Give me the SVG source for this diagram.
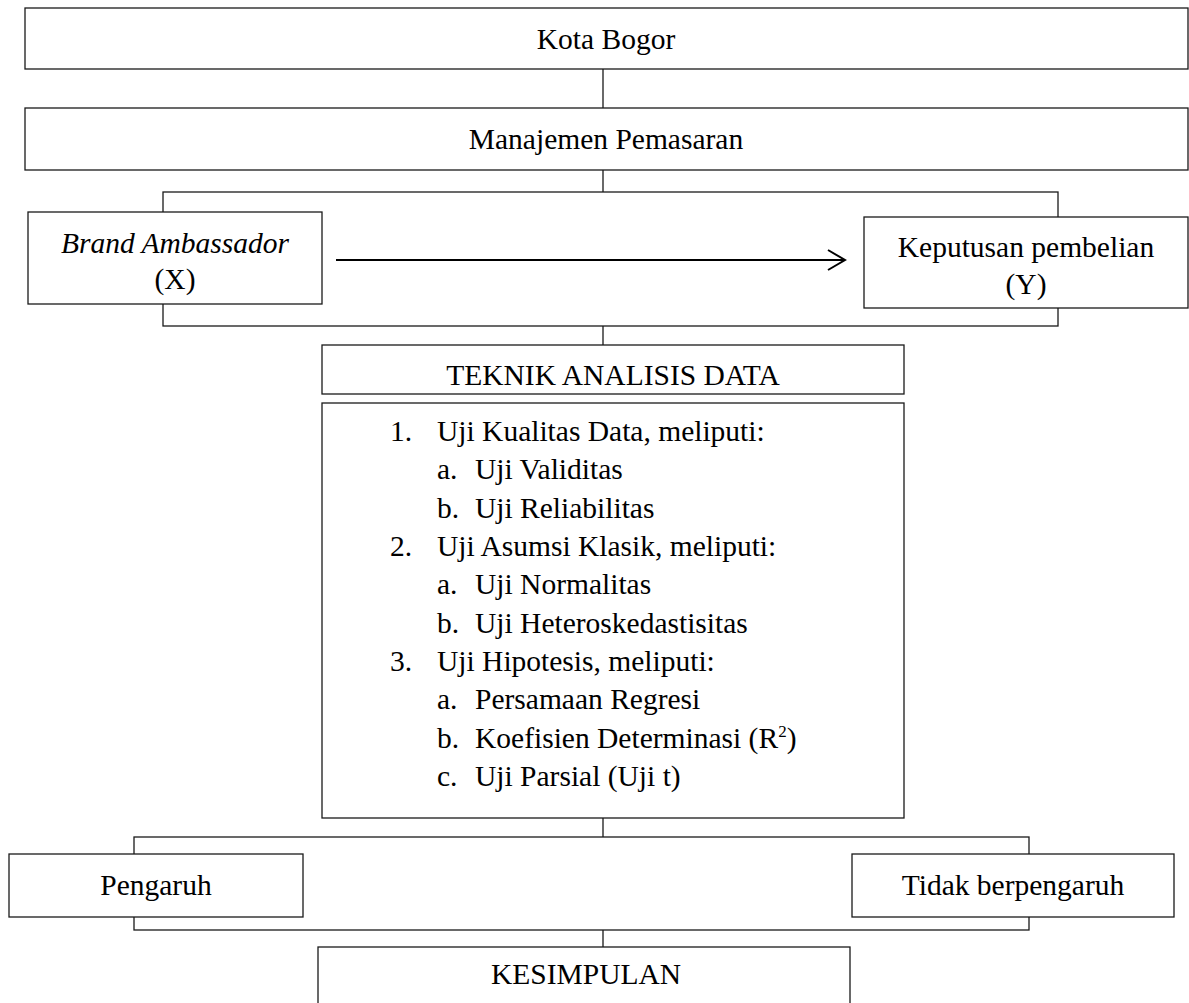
<svg xmlns="http://www.w3.org/2000/svg" width="1189" height="1003" viewBox="0 0 1189 1003">
<style>
.box{fill:#fff;stroke:#1a1a1a;stroke-width:1.3}
.ln{fill:none;stroke:#1a1a1a;stroke-width:1.3}
text{font-family:"Liberation Serif","Times New Roman",serif;font-size:29.5px;fill:#000}
.c{text-anchor:middle}
</style>
<defs>
<marker id="open" markerWidth="20" markerHeight="22" refX="18" refY="11" orient="auto" markerUnits="userSpaceOnUse">
<path d="M1,1 L18,11 L1,21" fill="none" stroke="#000" stroke-width="2"/>
</marker>
</defs>
<g id="connectors">
<line class="ln" x1="603" y1="69" x2="603" y2="108"/>
<line class="ln" x1="603" y1="170" x2="603" y2="192"/>
<rect class="ln" x="163" y="192" width="895" height="134"/>
<line class="ln" x1="603" y1="326" x2="603" y2="345"/>
<line x1="336" y1="260" x2="845" y2="260" stroke="#000" stroke-width="2" marker-end="url(#open)"/>
<line class="ln" x1="603" y1="818" x2="603" y2="837"/>
<rect class="ln" x="134" y="837" width="895" height="93"/>
<line class="ln" x1="603" y1="930" x2="603" y2="947"/>
</g>
<g id="kota-bogor">
<rect class="box" x="25" y="8" width="1163" height="61"/>
<text class="c" x="606" y="49">Kota Bogor</text>
</g>
<g id="manajemen-pemasaran">
<rect class="box" x="25" y="108" width="1163" height="62"/>
<text class="c" x="606" y="149">Manajemen Pemasaran</text>
</g>
<g id="brand-ambassador">
<rect class="box" x="28" y="212" width="294" height="92"/>
<text class="c" x="175" y="253" font-style="italic">Brand Ambassador</text>
<text class="c" x="175" y="289">(X)</text>
</g>
<g id="keputusan-pembelian">
<rect class="box" x="864" y="217" width="324" height="91"/>
<text class="c" x="1026" y="257">Keputusan pembelian</text>
<text class="c" x="1026" y="294">(Y)</text>
</g>
<g id="teknik-analisis-data">
<rect class="box" x="322" y="345" width="582" height="49"/>
<text class="c" x="613" y="385">TEKNIK ANALISIS DATA</text>
</g>
<g id="daftar-uji">
<rect class="box" x="322" y="403" width="582" height="415"/>
<text x="390" y="441">1.</text><text x="437" y="441">Uji Kualitas Data, meliputi:</text>
<text x="437" y="479.3">a.</text><text x="475" y="479.3">Uji Validitas</text>
<text x="437" y="517.7">b.</text><text x="475" y="517.7">Uji Reliabilitas</text>
<text x="390" y="556">2.</text><text x="437" y="556">Uji Asumsi Klasik, meliputi:</text>
<text x="437" y="594.3">a.</text><text x="475" y="594.3">Uji Normalitas</text>
<text x="437" y="632.7">b.</text><text x="475" y="632.7">Uji Heteroskedastisitas</text>
<text x="390" y="671">3.</text><text x="437" y="671">Uji Hipotesis, meliputi:</text>
<text x="437" y="709.3">a.</text><text x="475" y="709.3">Persamaan Regresi</text>
<text x="437" y="747.7">b.</text><text x="475" y="747.7">Koefisien Determinasi (R<tspan font-size="17" dy="-11">2</tspan><tspan dy="11">)</tspan></text>
<text x="437" y="786">c.</text><text x="475" y="786">Uji Parsial (Uji t)</text>
</g>
<g id="pengaruh">
<rect class="box" x="9" y="854" width="294" height="63"/>
<text class="c" x="156" y="895">Pengaruh</text>
</g>
<g id="tidak-berpengaruh">
<rect class="box" x="852" y="854" width="322" height="63"/>
<text class="c" x="1013" y="895">Tidak berpengaruh</text>
</g>
<g id="kesimpulan">
<rect class="box" x="318" y="947" width="532" height="70"/>
<text class="c" x="586" y="984">KESIMPULAN</text>
</g>
</svg>
